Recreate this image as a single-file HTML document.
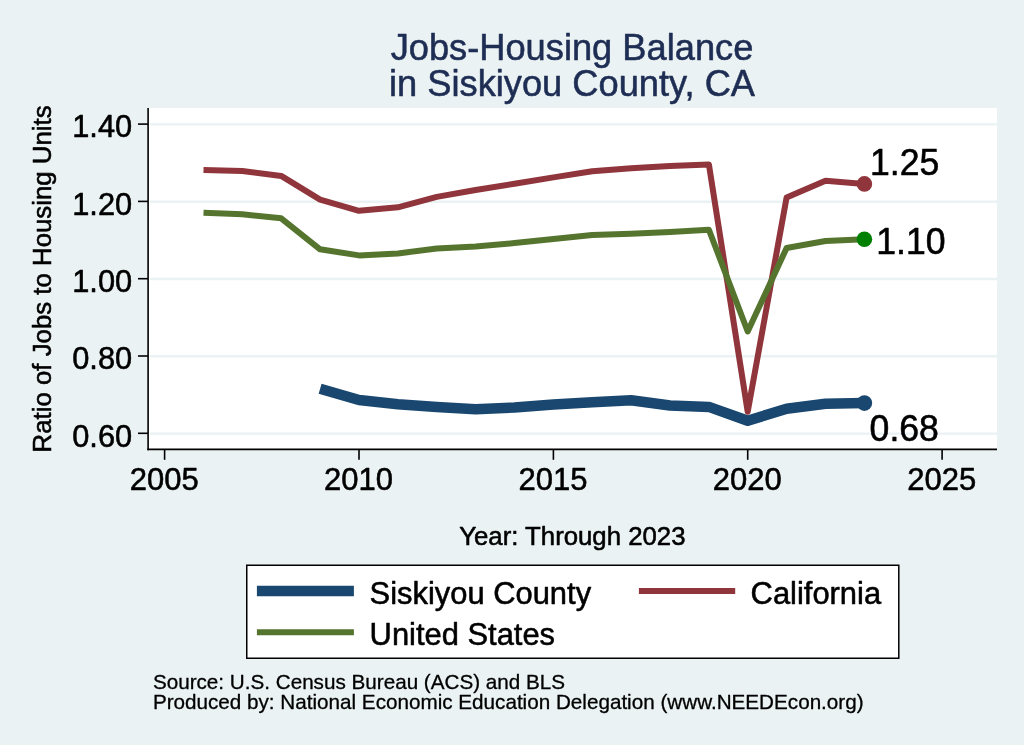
<!DOCTYPE html>
<html><head><meta charset="utf-8"><title>Jobs-Housing Balance in Siskiyou County, CA</title>
<style>
html,body{margin:0;padding:0;background:#eaf2f3;}
body{width:1024px;height:745px;overflow:hidden;font-family:"Liberation Sans",sans-serif;}
svg{display:block;will-change:transform;}
svg text{font-family:"Liberation Sans",sans-serif;fill:#000;stroke:#000;stroke-width:0.55px;stroke-linejoin:round;}
</style></head><body>
<svg width="1024" height="745" viewBox="0 0 1024 745">
<rect x="0" y="0" width="1024" height="745" fill="#eaf2f3"/>
<rect x="148" y="108" width="849" height="341.5" fill="#ffffff"/>
<line x1="150" x2="997" y1="124.40" y2="124.40" stroke="#eaf2f3" stroke-width="2.4"/><line x1="150" x2="997" y1="201.70" y2="201.70" stroke="#eaf2f3" stroke-width="2.4"/><line x1="150" x2="997" y1="279.00" y2="279.00" stroke="#eaf2f3" stroke-width="2.4"/><line x1="150" x2="997" y1="356.30" y2="356.30" stroke="#eaf2f3" stroke-width="2.4"/><line x1="150" x2="997" y1="433.60" y2="433.60" stroke="#eaf2f3" stroke-width="2.4"/>
<polyline points="320.1,388.75 359.0,400.00 397.9,404.25 436.7,407.00 475.6,409.30 514.5,407.45 553.4,404.50 592.2,402.25 631.1,400.25 670.0,405.50 708.9,406.90 747.7,420.80 786.6,408.75 825.5,403.75 864.4,403.00" fill="none" stroke="#1a476f" stroke-width="10.5" stroke-linejoin="round"/>
<polyline points="203.5,169.90 242.3,170.90 281.2,175.90 320.1,199.60 359.0,210.80 397.9,207.30 436.7,196.90 475.6,190.00 514.5,183.70 553.4,177.40 592.2,171.30 631.1,168.20 670.0,165.90 708.9,164.50 747.7,411.70 786.6,197.50 825.5,180.75 864.4,183.90" fill="none" stroke="#90353b" stroke-width="6" stroke-linejoin="round"/>
<polyline points="203.5,212.70 242.3,214.30 281.2,218.30 320.1,249.30 359.0,255.40 397.9,253.40 436.7,248.60 475.6,246.60 514.5,243.10 553.4,239.10 592.2,235.00 631.1,233.70 670.0,231.90 708.9,229.70 747.7,331.50 786.6,248.00 825.5,241.00 864.4,239.30" fill="none" stroke="#55752f" stroke-width="6" stroke-linejoin="round"/>
<circle cx="864.4" cy="403.1" r="7.8" fill="#1a476f"/>
<circle cx="864.4" cy="183.9" r="7.8" fill="#90353b"/>
<circle cx="864.4" cy="239.3" r="7.8" fill="#008000"/>
<text transform="translate(870.0,174.8) scale(1,1.05)" font-size="35.6">1.25</text>
<text transform="translate(876.3,254.0) scale(1,1.05)" font-size="35.6">1.10</text>
<text transform="translate(869.6,441.2) scale(1,1.05)" font-size="35.6">0.68</text>
<line x1="148.1" x2="148.1" y1="108" y2="450.2" stroke="#000" stroke-width="1.6"/>
<line x1="147.3" x2="997" y1="449.4" y2="449.4" stroke="#000" stroke-width="1.6"/>
<line x1="138" x2="148" y1="124.1" y2="124.1" stroke="#000" stroke-width="1.6"/><text x="132.2" y="137.4" text-anchor="end" font-size="30.8">1.40</text><line x1="138" x2="148" y1="201.4" y2="201.4" stroke="#000" stroke-width="1.6"/><text x="132.2" y="214.7" text-anchor="end" font-size="30.8">1.20</text><line x1="138" x2="148" y1="278.7" y2="278.7" stroke="#000" stroke-width="1.6"/><text x="132.2" y="292.0" text-anchor="end" font-size="30.8">1.00</text><line x1="138" x2="148" y1="356.0" y2="356.0" stroke="#000" stroke-width="1.6"/><text x="132.2" y="369.3" text-anchor="end" font-size="30.8">0.80</text><line x1="138" x2="148" y1="433.3" y2="433.3" stroke="#000" stroke-width="1.6"/><text x="132.2" y="446.6" text-anchor="end" font-size="30.8">0.60</text>
<line x1="164.6" x2="164.6" y1="449.5" y2="459.8" stroke="#000" stroke-width="1.6"/><text x="164.2" y="490.3" text-anchor="middle" font-size="31">2005</text><line x1="359.0" x2="359.0" y1="449.5" y2="459.8" stroke="#000" stroke-width="1.6"/><text x="358.6" y="490.3" text-anchor="middle" font-size="31">2010</text><line x1="553.4" x2="553.4" y1="449.5" y2="459.8" stroke="#000" stroke-width="1.6"/><text x="553.0" y="490.3" text-anchor="middle" font-size="31">2015</text><line x1="747.7" x2="747.7" y1="449.5" y2="459.8" stroke="#000" stroke-width="1.6"/><text x="747.3" y="490.3" text-anchor="middle" font-size="31">2020</text><line x1="942.1" x2="942.1" y1="449.5" y2="459.8" stroke="#000" stroke-width="1.6"/><text x="941.7" y="490.3" text-anchor="middle" font-size="31">2025</text>
<text x="572.0" y="60.3" text-anchor="middle" font-size="36.25" style="fill:#1e2d53;stroke:#1e2d53">Jobs-Housing Balance</text>
<text x="572.0" y="96.0" text-anchor="middle" font-size="36.25" style="fill:#1e2d53;stroke:#1e2d53">in Siskiyou County, CA</text>
<text transform="translate(51.1,278.9) rotate(-90)" text-anchor="middle" font-size="25.8">Ratio of Jobs to Housing Units</text>
<text x="572.35" y="544.7" text-anchor="middle" font-size="25.75">Year: Through 2023</text>
<rect x="246.75" y="565.25" width="652.05" height="93.0" fill="#ffffff" stroke="#000" stroke-width="1.5"/>
<line x1="256.9" x2="353.9" y1="591.05" y2="591.05" stroke="#1a476f" stroke-width="10.4"/>
<line x1="256.9" x2="353.9" y1="632.25" y2="632.25" stroke="#55752f" stroke-width="6.1"/>
<line x1="638.9" x2="735.2" y1="590.95" y2="590.95" stroke="#90353b" stroke-width="6.1"/>
<text x="369.6" y="604.2" font-size="30.9">Siskiyou County</text>
<text x="369.6" y="645.0" font-size="30.9">United States</text>
<text x="750.6" y="604.2" font-size="30.9">California</text>
<text x="152.9" y="688.9" font-size="20.67" style="stroke-width:0.3px">Source: U.S. Census Bureau (ACS) and BLS</text>
<text x="152.9" y="709" font-size="20.67" style="stroke-width:0.3px">Produced by: National Economic Education Delegation (www.NEEDEcon.org)</text>
</svg>
</body></html>
